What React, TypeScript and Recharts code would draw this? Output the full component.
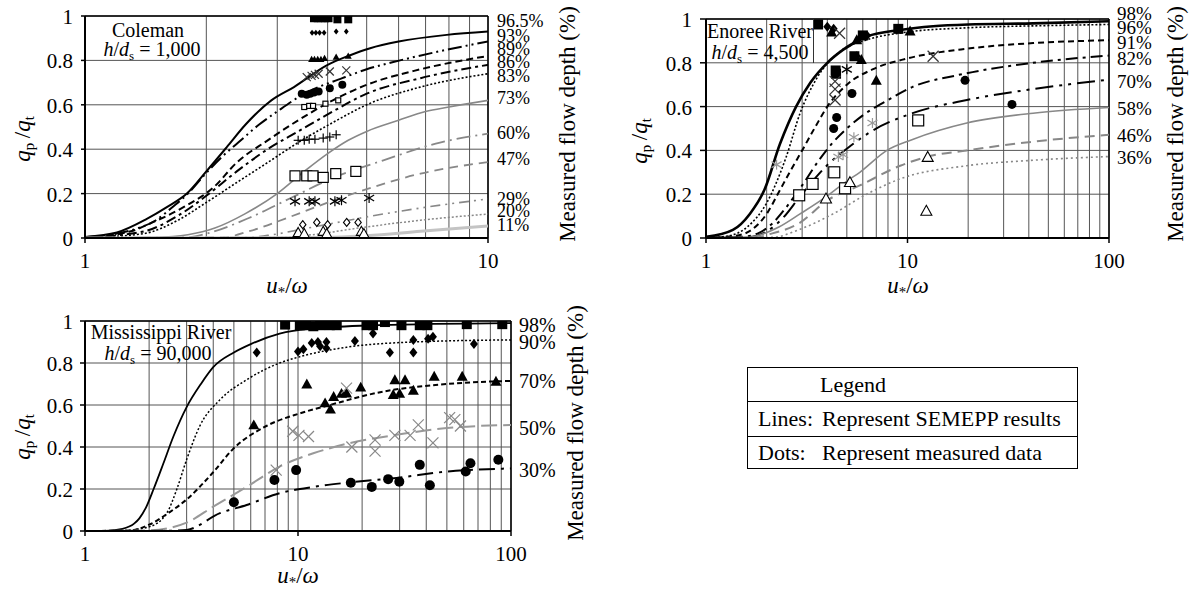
import React from 'react';
import { ComposedChart, Line, Scatter, XAxis, YAxis, CartesianGrid, ReferenceLine, ReferenceDot } from 'recharts';

type P = [number, number];
const FONT = "Liberation Serif, Tinos, Times New Roman, DejaVu Serif, serif";

// ---------- shared axis ticks ----------
const yTicks = [0, 0.2, 0.4, 0.6, 0.8, 1];
const xTicks10 = [1, 2, 3, 4, 5, 6, 7, 8, 9, 10];
const xTicks100 = [1, 2, 3, 4, 5, 6, 7, 8, 9, 10, 20, 30, 40, 50, 60, 70, 80, 90, 100];
const xLabels10 = [1, 10];
const xLabels100 = [1, 10, 100];

// ---------- Coleman (h/ds = 1,000) ----------
const col965: P[] = [[1,0.005],[1.2,0.025],[1.42,0.085],[1.6,0.14],[1.79,0.2],[2.0,0.3],[2.25,0.41],[2.5,0.51],[2.9,0.62],[3.3,0.68],[4.0,0.78],[4.5,0.82],[5.1,0.855],[6.0,0.885],[7.9,0.915],[10,0.93]];
const col93: P[] = [[1,0.003],[1.33,0.04],[1.5,0.08],[1.65,0.14],[1.8,0.2],[1.97,0.28],[2.2,0.37],[2.4,0.43],[2.7,0.51],[3.0,0.57],[3.5,0.65],[4.35,0.72],[5.0,0.76],[6.05,0.8],[8.0,0.85],[10,0.885]];
const col89: P[] = [[1,0.002],[1.3,0.03],[1.47,0.07],[1.76,0.14],[2.09,0.23],[2.38,0.34],[2.84,0.44],[3.38,0.53],[4.12,0.62],[5.0,0.69],[6.8,0.76],[10,0.82]];
const col86: P[] = [[1,0.002],[1.4,0.03],[1.7,0.1],[2.0,0.19],[2.38,0.3],[2.84,0.4],[3.38,0.48],[4.12,0.57],[5.0,0.65],[6.8,0.72],[10,0.78]];
const col83: P[] = [[1,0.001],[1.4,0.02],[1.7,0.08],[2.0,0.16],[2.38,0.25],[2.84,0.34],[3.38,0.43],[4.12,0.52],[5.0,0.6],[6.8,0.68],[10,0.74]];
const col73: P[] = [[1,0],[1.5,0.003],[1.8,0.015],[2.1,0.045],[2.5,0.11],[3.0,0.2],[3.5,0.3],[4.0,0.38],[4.5,0.44],[5.0,0.48],[6.0,0.53],[7.0,0.57],[8.0,0.59],[10,0.62]];
const col60: P[] = [[1,0],[1.8,0.003],[2.05,0.025],[2.55,0.09],[3.24,0.18],[4.12,0.27],[5.5,0.35],[7.6,0.43],[10,0.47]];
const col47: P[] = [[1,0],[2.2,0.003],[2.55,0.03],[3.17,0.09],[3.94,0.155],[5.0,0.22],[6.8,0.29],[10,0.342]];
const col29: P[] = [[1,0],[2.5,0.002],[2.84,0.012],[3.7,0.05],[5.0,0.095],[6.8,0.135],[10,0.176]];
const col20: P[] = [[1,0],[3.0,0.002],[3.54,0.012],[5.0,0.05],[6.8,0.08],[10,0.108]];
const col11: P[] = [[1,0],[4,0.002],[5,0.01],[6.8,0.03],[10,0.054]];

const colSq: P[] = [[3.7,0.99],[3.78,0.99],[3.86,0.99],[3.94,0.99],[4.02,0.99],[4.23,0.985],[4.5,0.985]];
const colDia: P[] = [[3.66,0.925],[3.74,0.925],[3.82,0.925],[3.92,0.925],[4.2,0.93],[4.45,0.93]];
const colTri: P[] = [[3.65,0.805],[3.71,0.805],[3.78,0.805],[3.85,0.805],[3.93,0.81],[4.2,0.815],[4.5,0.82]];
const colX: P[] = [[3.55,0.725],[3.65,0.73],[3.72,0.735],[3.8,0.74],[4.05,0.75],[4.45,0.755]];
const colDot: P[] = [[3.45,0.65],[3.55,0.645],[3.62,0.65],[3.7,0.655],[3.8,0.66],[4.05,0.675],[4.35,0.69]];
const colSmallSq: P[] = [[3.5,0.59],[3.6,0.595],[3.68,0.595],[3.95,0.605],[4.25,0.62]];
const colPlus: P[] = [[3.38,0.44],[3.5,0.44],[3.6,0.445],[3.72,0.445],[3.9,0.45],[4.05,0.455],[4.2,0.465]];
const colOpenSq: P[] = [[3.32,0.28],[3.55,0.28],[3.68,0.28],[3.9,0.273],[4.19,0.29],[4.7,0.3]];
const colAst: P[] = [[3.32,0.165],[3.6,0.165],[3.72,0.165],[4.17,0.165],[4.33,0.17],[5.07,0.18]];
const colOpenDia: P[] = [[3.47,0.06],[3.76,0.07],[4.0,0.06],[4.46,0.07],[4.76,0.07]];
const colOpenTri: P[] = [[3.38,0.025],[3.5,0.02],[3.9,0.03],[3.98,0.02],[4.85,0.03],[4.92,0.02]];

const colPctLabels = ['96.5%','93%','89%','86%','83%','73%','60%','47%','29%','20%','11%'];
const colPctY = [0.979,0.914,0.854,0.794,0.73,0.632,0.474,0.359,0.179,0.126,0.059];

// ---------- Enoree River (h/ds = 4,500) ----------
const eno98: P[] = [[1,0.005],[1.36,0.037],[1.65,0.11],[1.95,0.22],[2.33,0.43],[2.8,0.6],[3.3,0.71],[4.0,0.8],[4.8,0.86],[6.3,0.92],[9.2,0.95],[13.4,0.967],[20,0.975],[42,0.98],[100,0.99]];
const eno96: P[] = [[1,0],[1.3,0.01],[1.6,0.05],[2.0,0.16],[2.5,0.37],[2.93,0.57],[3.55,0.73],[4.6,0.85],[6.3,0.905],[9.9,0.94],[20,0.96],[50,0.97],[100,0.975]];
const eno91: P[] = [[1,0],[1.4,0.01],[1.7,0.04],[2.0,0.11],[2.3,0.21],[2.6,0.3],[3.0,0.4],[3.5,0.51],[4.0,0.6],[5.0,0.7],[6.7,0.77],[10,0.82],[20,0.865],[42,0.89],[100,0.903]];
const eno82: P[] = [[1,0],[1.5,0.005],[1.8,0.02],[2.1,0.06],[2.5,0.14],[3.0,0.24],[3.6,0.35],[4.3,0.44],[5.0,0.5],[6.0,0.56],[8.0,0.63],[10.6,0.69],[18,0.745],[42,0.8],[100,0.833]];
const eno70: P[] = [[1,0],[1.6,0.003],[2.0,0.03],[2.4,0.09],[2.93,0.19],[3.97,0.33],[5.2,0.42],[6.7,0.49],[10.6,0.57],[19.7,0.63],[42,0.68],[100,0.723]];
const eno58: P[] = [[1,0],[1.6,0.003],[1.85,0.014],[2.3,0.05],[2.93,0.11],[3.97,0.19],[5.0,0.26],[5.8,0.3],[7.9,0.4],[10.6,0.45],[19.7,0.525],[42,0.57],[100,0.596]];
const eno46: P[] = [[1,0],[1.8,0.003],[2.0,0.014],[2.93,0.07],[3.97,0.17],[5.8,0.24],[9.2,0.33],[12.4,0.37],[19.7,0.4],[42,0.44],[100,0.471]];
const eno36: P[] = [[1,0],[2.15,0.003],[2.93,0.04],[4.27,0.11],[6.27,0.2],[9.2,0.27],[19.7,0.33],[42,0.355],[100,0.372]];

const enoSq: P[] = [[3.6,0.975],[4.4,0.765],[4.42,0.75],[5.45,0.83],[6.0,0.925],[9.0,0.955]];
const enoDia: P[] = [[4.0,0.965],[4.3,0.955],[5.6,0.83],[6.3,0.925]];
const enoTri: P[] = [[4.2,0.94],[5.6,0.905],[5.9,0.815],[7.0,0.72],[10.3,0.945]];
const enoX: P[] = [[4.6,0.935],[4.37,0.715],[4.37,0.68],[4.37,0.63],[13.4,0.83]];
const enoAstBlack: P[] = [[5.0,0.77]];
const enoDot: P[] = [[5.3,0.66],[4.45,0.55],[4.3,0.5],[19.3,0.72],[33,0.61]];
const enoAstGray: P[] = [[2.24,0.335],[4.54,0.37],[4.79,0.38],[5.42,0.46],[6.7,0.525]];
const enoOpenSq: P[] = [[2.9,0.195],[3.38,0.247],[4.33,0.3],[4.9,0.227],[11.3,0.537]];
const enoOpenTri: P[] = [[3.94,0.18],[5.18,0.255],[12.6,0.37],[12.4,0.124]];

const enoPctLabels = ['98%','96%','91%','82%','70%','58%','46%','36%'];
const enoPctY = [1.028,0.962,0.896,0.822,0.715,0.594,0.471,0.371];

// ---------- Mississippi River (h/ds = 90,000) ----------
const mis98: P[] = [[1,0],[1.3,0.002],[1.5,0.01],[1.7,0.035],[1.8,0.06],[1.95,0.12],[2.1,0.2],[2.33,0.32],[2.6,0.45],[3.0,0.59],[3.5,0.7],[4.0,0.78],[5.0,0.85],[6.0,0.89],[8.2,0.94],[12,0.965],[24,0.98],[100,0.99]];
const mis90: P[] = [[1,0],[1.5,0.002],[2.0,0.02],[2.42,0.085],[2.7,0.2],[3.0,0.34],[3.46,0.5],[4.3,0.625],[5.74,0.72],[8.2,0.8],[10.2,0.83],[16.9,0.875],[34.7,0.9],[100,0.91]];
const mis70: P[] = [[1,0],[1.6,0.002],[2.0,0.03],[2.5,0.09],[3.0,0.15],[4.0,0.28],[4.95,0.39],[7.1,0.5],[10.2,0.56],[14.1,0.6],[24,0.66],[50,0.7],[100,0.715]];
const mis50: P[] = [[1,0],[2.0,0.003],[3.0,0.04],[4.0,0.116],[5.74,0.21],[8.2,0.307],[11.8,0.37],[16.9,0.415],[29,0.458],[50,0.49],[100,0.505]];
const mis30: P[] = [[1,0],[2.5,0.001],[3.0,0.005],[4.3,0.085],[5.74,0.124],[8.2,0.18],[11.8,0.21],[16.9,0.23],[29,0.253],[50,0.283],[100,0.298]];

const misSq: P[] = [[8.7,0.983],[10.2,0.98],[10.9,0.98],[11.8,0.975],[12.7,0.98],[14.1,0.98],[15.2,0.98],[21,0.98],[22.5,0.98],[25.6,0.995],[30.6,0.98],[37.3,0.98],[40.5,0.98],[62,0.985],[91,0.985]];
const misDia: P[] = [[6.4,0.85],[10,0.855],[10.6,0.865],[11.6,0.895],[12.4,0.9],[12.7,0.88],[13.6,0.9],[13.6,0.87],[18.5,0.905],[22.5,0.94],[27,0.85],[34.8,0.91],[34.8,0.85],[40.8,0.915],[43,0.925],[67,0.89]];
const misTri: P[] = [[6.2,0.505],[11,0.7],[13.4,0.61],[14.2,0.58],[14.7,0.64],[16,0.655],[16.9,0.657],[19.7,0.685],[28.5,0.72],[31.8,0.72],[28,0.65],[30,0.655],[34.8,0.67],[43.6,0.737],[59,0.737],[85,0.713]];
const misX: P[] = [[7.9,0.29],[9.45,0.475],[10.1,0.455],[11.2,0.45],[16.9,0.68],[17.9,0.4],[23,0.434],[23,0.38],[28.5,0.455],[33.6,0.455],[36.7,0.505],[43,0.42],[51.5,0.54],[54.5,0.53],[57.9,0.5]];
const misDot: P[] = [[5,0.137],[7.75,0.243],[9.8,0.29],[17.7,0.23],[22.2,0.21],[26.5,0.247],[29.9,0.235],[37.3,0.315],[41.6,0.218],[61.3,0.283],[64.5,0.323],[87.2,0.339]];

const misPctLabels = ['98%','90%','70%','50%','30%'];
const misPctY = [0.983,0.903,0.713,0.49,0.291];

// ---------- helpers ----------
const toObj = (a: P[]) => a.map(([x, y]) => ({ x, y }));

type MK = 'sq' | 'osq' | 'dia' | 'odia' | 'tri' | 'otri' | 'x' | 'plus' | 'ast' | 'dot';
interface LineSpec { data: P[]; stroke: string; width: number; dash?: string }
interface ScatSpec { data: P[]; kind: MK; size: number; color: string }

function Marker({ cx, cy, k, s, c }: { cx: number; cy: number; k: MK; s: number; c: string }) {
  const h = s / 2;
  if (cx == null || cy == null || isNaN(cx) || isNaN(cy)) return <g />;
  switch (k) {
    case 'sq':
      return <rect x={cx - h} y={cy - h} width={s} height={s} fill={c} />;
    case 'osq':
      return <rect x={cx - h} y={cy - h} width={s} height={s} fill="#fff" stroke={c} strokeWidth={1.2} />;
    case 'dia':
      return <polygon points={`${cx},${cy - h} ${cx + h * 0.8},${cy} ${cx},${cy + h} ${cx - h * 0.8},${cy}`} fill={c} />;
    case 'odia':
      return <polygon points={`${cx},${cy - h} ${cx + h * 0.8},${cy} ${cx},${cy + h} ${cx - h * 0.8},${cy}`} fill="#fff" stroke={c} strokeWidth={1.1} />;
    case 'tri':
      return <polygon points={`${cx},${cy - h} ${cx + h},${cy + h * 0.8} ${cx - h},${cy + h * 0.8}`} fill={c} />;
    case 'otri':
      return <polygon points={`${cx},${cy - h} ${cx + h},${cy + h * 0.8} ${cx - h},${cy + h * 0.8}`} fill="#fff" stroke={c} strokeWidth={1.1} />;
    case 'x':
      return (
        <g stroke={c} strokeWidth={1.2}>
          <line x1={cx - h} y1={cy - h} x2={cx + h} y2={cy + h} />
          <line x1={cx - h} y1={cy + h} x2={cx + h} y2={cy - h} />
        </g>
      );
    case 'plus':
      return (
        <g stroke={c} strokeWidth={1.2}>
          <line x1={cx - h} y1={cy} x2={cx + h} y2={cy} />
          <line x1={cx} y1={cy - h} x2={cx} y2={cy + h} />
        </g>
      );
    case 'ast':
      return (
        <g stroke={c} strokeWidth={1.2}>
          <line x1={cx - h} y1={cy - h * 0.6} x2={cx + h} y2={cy + h * 0.6} />
          <line x1={cx - h} y1={cy + h * 0.6} x2={cx + h} y2={cy - h * 0.6} />
          <line x1={cx} y1={cy - h} x2={cx} y2={cy + h} />
        </g>
      );
    case 'dot':
    default:
      return <circle cx={cx} cy={cy} r={h} fill={c} />;
  }
}

interface PanelProps {
  left: number; top: number; width: number; height: number;
  margin: { top: number; right: number; bottom: number; left: number };
  yAxisWidth: number; xAxisHeight: number;
  xMax: number; xTicks: number[]; xLabels: number[];
  lines: LineSpec[]; scatters: ScatSpec[];
  pctLabels: string[]; pctY: number[]; pctSize: number;
  yGap: number; yTickLen: number; pctGap: number;
}

function Panel(p: PanelProps) {
  const XTick = (tp: any) => {
    const { x, y, payload } = tp;
    const v = payload.value;
    if (!p.xLabels.includes(v)) return <g />;
    return (
      <g>
        <line x1={x} y1={y} x2={x} y2={y + 5} stroke="#000" strokeWidth={1.5} />
        <text x={x} y={y + 30} textAnchor="middle" fontSize={21} style={{ fontFamily: FONT }} fill="#000">{String(v)}</text>
      </g>
    );
  };
  const YTick = (tp: any) => {
    const { x, y, payload } = tp;
    return (
      <g>
        <line x1={x - p.yTickLen} y1={y} x2={x} y2={y} stroke="#000" strokeWidth={1.5} />
        <text x={x - p.yGap} y={y + 8} textAnchor="end" fontSize={21} style={{ fontFamily: FONT }} fill="#000">{String(payload.value)}</text>
      </g>
    );
  };
  return (
    <div style={{ position: 'absolute', left: p.left, top: p.top }}>
      <ComposedChart width={p.width} height={p.height} margin={p.margin}>
        <CartesianGrid stroke="#555" strokeWidth={1} fill="none" />
        <XAxis
          dataKey="x" type="number" scale="log" domain={[1, p.xMax]} allowDataOverflow
          ticks={p.xTicks} interval={0} height={p.xAxisHeight}
          tickSize={0} tickMargin={0} tickLine={false}
          axisLine={{ stroke: '#000', strokeWidth: 2 }} tick={XTick}
        />
        <YAxis
          type="number" domain={[0, 1]} allowDataOverflow ticks={yTicks} interval={0}
          width={p.yAxisWidth} tickSize={0} tickMargin={0} tickLine={false}
          axisLine={{ stroke: '#000', strokeWidth: 2 }} tick={YTick}
        />
        <ReferenceLine y={1} stroke="#000" strokeWidth={1.5} />
        <ReferenceLine x={p.xMax} stroke="#000" strokeWidth={1.5} />
        {p.lines.map((l, i) => (
          <Line
            key={'l' + i} data={toObj(l.data)} dataKey="y" type="monotone"
            stroke={l.stroke} strokeWidth={l.width} strokeDasharray={l.dash}
            dot={false} activeDot={false} isAnimationActive={false}
          />
        ))}
        {p.scatters.map((s, i) => (
          <Scatter
            key={'s' + i} data={toObj(s.data)} dataKey="y" isAnimationActive={false}
            shape={(sp: any) => <Marker cx={sp.cx} cy={sp.cy} k={s.kind} s={s.size} c={s.color} />}
          />
        ))}
        {p.pctLabels.map((lab, i) => (
          <ReferenceDot
            key={'p' + i} x={p.xMax} y={p.pctY[i]} r={0} ifOverflow="visible"
            shape={(dp: any) => (
              <text x={dp.cx + p.pctGap} y={dp.cy} dy="0.36em" fontSize={p.pctSize} style={{ fontFamily: FONT }} fill="#000">{lab}</text>
            )}
          />
        ))}
      </ComposedChart>
    </div>
  );
}

const sub = (t: string) => (
  <span style={{ fontSize: '0.65em', position: 'relative', top: '0.3em' }}>{t}</span>
);

function Txt({ cx, cy, size, children, rotate }: { cx: number; cy: number; size: number; children: React.ReactNode; rotate?: boolean }) {
  return (
    <div
      style={{
        position: 'absolute', left: cx, top: cy, whiteSpace: 'nowrap', fontSize: size, lineHeight: 1,
        fontFamily: FONT,
        transform: rotate ? 'translate(-50%,-50%) rotate(-90deg)' : 'translate(-50%,-50%)',
      }}
    >
      {children}
    </div>
  );
}

const YTitle = () => (<span><i>q</i>{sub('p')}&#8201;/<i>q</i>{sub('t')}</span>);
const XTitle = () => (<span><i>u</i>{sub('*')}/<i>ω</i></span>);
const Hds = ({ v }: { v: string }) => (<span><i>h</i>/<i>d</i>{sub('s')} = {v}</span>);

export default function App() {
  const BLK = '#000';
  const GRY = '#888';

  const colLines: LineSpec[] = [
    { data: col965, stroke: BLK, width: 2 },
    { data: col93, stroke: BLK, width: 2, dash: '14 4 2 4 2 4' },
    { data: col89, stroke: BLK, width: 2, dash: '7 4' },
    { data: col86, stroke: BLK, width: 2, dash: '10 4 3 4' },
    { data: col83, stroke: BLK, width: 1.6, dash: '2 2' },
    { data: col73, stroke: GRY, width: 1.6 },
    { data: col60, stroke: GRY, width: 1.8, dash: '14 5 2 5' },
    { data: col47, stroke: GRY, width: 1.8, dash: '9 6' },
    { data: col29, stroke: GRY, width: 1.6, dash: '10 5 2 5 2 5' },
    { data: col20, stroke: GRY, width: 1.5, dash: '2 2' },
    { data: col11, stroke: '#c4c4c4', width: 3 },
  ];
  const colScat: ScatSpec[] = [
    { data: colSq, kind: 'sq', size: 8, color: BLK },
    { data: colDia, kind: 'dia', size: 6, color: BLK },
    { data: colTri, kind: 'tri', size: 7, color: BLK },
    { data: colX, kind: 'x', size: 8, color: '#333' },
    { data: colDot, kind: 'dot', size: 8, color: BLK },
    { data: colSmallSq, kind: 'osq', size: 5, color: BLK },
    { data: colPlus, kind: 'plus', size: 9, color: BLK },
    { data: colOpenSq, kind: 'osq', size: 10, color: BLK },
    { data: colAst, kind: 'ast', size: 10, color: BLK },
    { data: colOpenDia, kind: 'odia', size: 8, color: BLK },
    { data: colOpenTri, kind: 'otri', size: 10, color: BLK },
  ];

  const enoLines: LineSpec[] = [
    { data: eno98, stroke: BLK, width: 2.6 },
    { data: eno96, stroke: BLK, width: 1.6, dash: '2 2' },
    { data: eno91, stroke: BLK, width: 2, dash: '6 4' },
    { data: eno82, stroke: BLK, width: 2, dash: '12 5 3 5' },
    { data: eno70, stroke: BLK, width: 2, dash: '18 6 3 6 3 6' },
    { data: eno58, stroke: GRY, width: 1.6 },
    { data: eno46, stroke: GRY, width: 2, dash: '10 6' },
    { data: eno36, stroke: GRY, width: 1.6, dash: '2 3' },
  ];
  const enoScat: ScatSpec[] = [
    { data: enoSq, kind: 'sq', size: 10, color: BLK },
    { data: enoDia, kind: 'dia', size: 10, color: BLK },
    { data: enoTri, kind: 'tri', size: 11, color: BLK },
    { data: enoX, kind: 'x', size: 11, color: '#333' },
    { data: enoAstBlack, kind: 'ast', size: 10, color: BLK },
    { data: enoDot, kind: 'dot', size: 9, color: BLK },
    { data: enoAstGray, kind: 'ast', size: 10, color: '#999' },
    { data: enoOpenSq, kind: 'osq', size: 11, color: BLK },
    { data: enoOpenTri, kind: 'otri', size: 11, color: BLK },
  ];

  const misLines: LineSpec[] = [
    { data: mis98, stroke: BLK, width: 1.8 },
    { data: mis90, stroke: BLK, width: 1.5, dash: '2 2' },
    { data: mis70, stroke: BLK, width: 2, dash: '5 3' },
    { data: mis50, stroke: '#999', width: 2, dash: '16 6' },
    { data: mis30, stroke: BLK, width: 2, dash: '16 6 3 6' },
  ];
  const misScat: ScatSpec[] = [
    { data: misSq, kind: 'sq', size: 10, color: BLK },
    { data: misDia, kind: 'dia', size: 10, color: BLK },
    { data: misTri, kind: 'tri', size: 11, color: BLK },
    { data: misX, kind: 'x', size: 11, color: '#888' },
    { data: misDot, kind: 'dot', size: 10, color: BLK },
  ];

  return (
    <div style={{ position: 'absolute', left: 0, top: 0, width: 1190, height: 590, background: '#fff', fontFamily: FONT, color: '#000', overflow: 'hidden' }}>
      <Panel
        left={0} top={0} width={600} height={300}
        margin={{ top: 16, right: 112, bottom: 0, left: 0 }}
        yAxisWidth={85} xAxisHeight={62} xMax={10} xTicks={xTicks10} xLabels={xLabels10}
        lines={colLines} scatters={colScat} pctLabels={colPctLabels} pctY={colPctY} pctSize={18}
        yGap={12} yTickLen={4} pctGap={9}
      />
      <Panel
        left={600} top={0} width={590} height={300}
        margin={{ top: 19, right: 81, bottom: 0, left: 0 }}
        yAxisWidth={106} xAxisHeight={62} xMax={100} xTicks={xTicks100} xLabels={xLabels100}
        lines={enoLines} scatters={enoScat} pctLabels={enoPctLabels} pctY={enoPctY} pctSize={19}
        yGap={14} yTickLen={6} pctGap={8}
      />
      <Panel
        left={0} top={290} width={600} height={300}
        margin={{ top: 31, right: 89, bottom: 0, left: 0 }}
        yAxisWidth={85} xAxisHeight={59} xMax={100} xTicks={xTicks100} xLabels={xLabels100}
        lines={misLines} scatters={misScat} pctLabels={misPctLabels} pctY={misPctY} pctSize={20}
        yGap={12} yTickLen={5} pctGap={8}
      />

      {/* panel annotations */}
      <Txt cx={148} cy={30} size={20}>Coleman</Txt>
      <Txt cx={152} cy={49} size={20}><Hds v="1,000" /></Txt>
      <div style={{ position: 'absolute', left: 706, top: 19, width: 108, height: 44, borderRight: '1px solid #333', boxSizing: 'border-box' }} />
      <Txt cx={760} cy={31} size={20}>Enoree River</Txt>
      <Txt cx={760} cy={52} size={20}><Hds v="4,500" /></Txt>
      <Txt cx={161} cy={332} size={20}>Mississippi River</Txt>
      <Txt cx={158} cy={353} size={20}><Hds v="90,000" /></Txt>

      {/* axis titles */}
      <Txt cx={22} cy={139} size={23} rotate><YTitle /></Txt>
      <Txt cx={639} cy={141} size={23} rotate><YTitle /></Txt>
      <Txt cx={22} cy={437} size={23} rotate><YTitle /></Txt>
      <Txt cx={287} cy={285} size={23}><XTitle /></Txt>
      <Txt cx={908} cy={285} size={23}><XTitle /></Txt>
      <Txt cx={298} cy={575} size={23}><XTitle /></Txt>
      <Txt cx={567} cy={124} size={23} rotate>Measured flow depth (%)</Txt>
      <Txt cx={1175} cy={124} size={23} rotate>Measured flow depth (%)</Txt>
      <Txt cx={575} cy={423} size={23} rotate>Measured flow depth (%)</Txt>

      {/* legend box */}
      <div style={{ position: 'absolute', left: 747, top: 367, width: 331, height: 102, border: '1.5px solid #000', boxSizing: 'border-box', fontSize: 22, fontFamily: FONT }}>
        <div style={{ height: 33, borderBottom: '1px solid #000', paddingLeft: 72, lineHeight: '33px' }}>Legend</div>
        <div style={{ height: 34, borderBottom: '1px solid #000', paddingLeft: 10, lineHeight: '34px', whiteSpace: 'nowrap' }}>
          <span style={{ display: 'inline-block', width: 64 }}>Lines:</span>Represent SEMEPP results
        </div>
        <div style={{ height: 31, paddingLeft: 10, lineHeight: '31px', whiteSpace: 'nowrap' }}>
          <span style={{ display: 'inline-block', width: 64 }}>Dots:</span>Represent measured data
        </div>
      </div>
    </div>
  );
}
